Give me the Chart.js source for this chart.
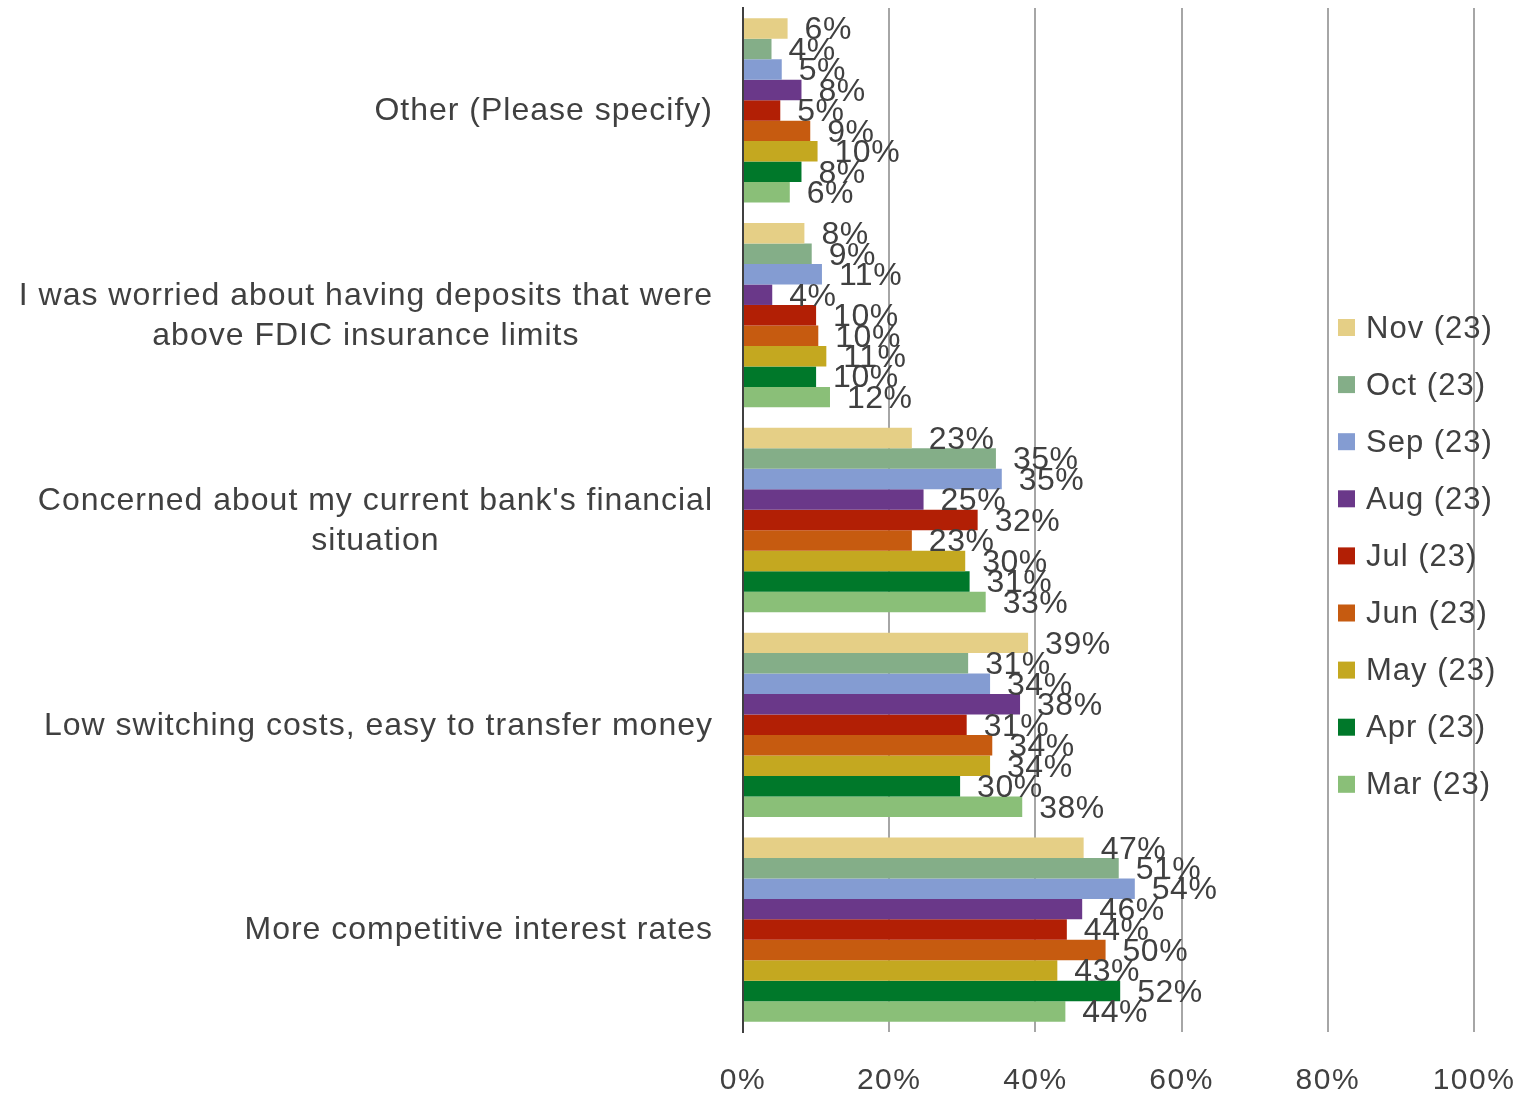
<!DOCTYPE html>
<html><head><meta charset="utf-8">
<script src="https://cdn.jsdelivr.net/npm/chart.js@4"></script>
<style>html,body{margin:0;padding:0;background:#fff}</style>
</head><body>
<canvas id="c" width="1524" height="1094"></canvas>
<script>
// ---- data ----
const categories = [
  ["Other (Please specify)"],
  ["I was worried about having deposits that were", "above FDIC insurance limits"],
  ["Concerned about my current bank's financial", "situation"],
  ["Low switching costs, easy to transfer money"],
  ["More competitive interest rates"]
];
const seriesNames = ["Nov (23)", "Oct (23)", "Sep (23)", "Aug (23)", "Jul (23)", "Jun (23)", "May (23)", "Apr (23)", "Mar (23)"];
const nov = [6.1, 8.4, 23.1, 39.0, 46.6];
const oct = [3.9, 9.4, 34.6, 30.8, 51.4];
const sep = [5.3, 10.8, 35.4, 33.8, 53.6];
const aug = [8.0, 4.0, 24.7, 37.9, 46.4];
const jul = [5.1, 10.0, 32.1, 30.6, 44.3];
const jun = [9.2, 10.3, 23.1, 34.1, 49.6];
const may = [10.2, 11.4, 30.4, 33.8, 43.0];
const apr = [8.0, 10.0, 31.0, 29.7, 51.6];
const mar = [6.4, 11.9, 33.2, 38.2, 44.1];
const xTicks = [0, 20, 40, 60, 80, 100];

// ---- styles ----
const colors = ["#E5CF86", "#84AE88", "#849CD2", "#6A3889", "#B21F05", "#C65B10", "#C4A820", "#00782A", "#8ABF78"];
const series = [nov, oct, sep, aug, jul, jun, may, apr, mar];
const FAM = '"Liberation Sans", Arial, sans-serif';
const TXT = '#404040';

const textPlugin = {
  id: 'textPlugin',
  beforeDraw(chart) {
    chart.ctx.letterSpacing = '1.5px';
  },
  afterDatasetsDraw(chart) {
    const ctx = chart.ctx;
    ctx.save();
    ctx.letterSpacing = '0.5px';
    ctx.font = '32px ' + FAM;
    ctx.fillStyle = TXT;
    ctx.textAlign = 'left';
    ctx.textBaseline = 'middle';
    chart.data.datasets.forEach((ds, di) => {
      const meta = chart.getDatasetMeta(di);
      meta.data.forEach((bar, i) => {
        ctx.fillText(Math.round(ds.data[i]) + '%', bar.x + 17, bar.y + 2);
      });
    });
    ctx.restore();
  },
  afterDraw(chart) {
    const ctx = chart.ctx;
    const ys = chart.scales.y;
    ctx.save();
    // category labels
    ctx.letterSpacing = '1px';
    ctx.font = '32px ' + FAM;
    ctx.fillStyle = TXT;
    ctx.textAlign = 'center';
    ctx.textBaseline = 'middle';
    const lh = 40;
    chart.data.labels.forEach((lines, i) => {
      const yc = ys.getPixelForTick(i) + 1;
      const w = Math.max(...lines.map(l => ctx.measureText(l).width));
      const cx = chart.chartArea.left - 30 - w / 2;
      const y0 = yc - (lines.length - 1) * lh / 2;
      lines.forEach((l, k) => ctx.fillText(l, cx, y0 + k * lh));
    });
    // legend
    ctx.font = '31px ' + FAM;
    ctx.textAlign = 'left';
    chart.data.datasets.forEach((ds, di) => {
      const y = 328 + di * 57.1;
      ctx.fillStyle = ds.backgroundColor;
      ctx.fillRect(1338, y - 9, 17, 17);
      ctx.fillStyle = TXT;
      ctx.fillText(ds.label, 1366, y + 1);
    });
    ctx.restore();
  }
};

new Chart(document.getElementById('c'), {
  type: 'bar',
  data: {
    labels: categories,
    datasets: seriesNames.map((n, i) => ({
      label: n,
      data: series[i],
      backgroundColor: colors[i],
      borderWidth: 0,
      categoryPercentage: 0.9,
      barPercentage: 1.0
    }))
  },
  options: {
    indexAxis: 'y',
    responsive: false,
    animation: false,
    devicePixelRatio: 1,
    layout: { padding: { top: 8, right: 50, left: 0, bottom: 0 } },
    plugins: { legend: { display: false }, tooltip: { enabled: false } },
    scales: {
      x: {
        min: 0, max: 100,
        afterBuildTicks: s => { s.ticks = xTicks.map(v => ({ value: v })); },
        ticks: { callback: v => v + '%', font: { size: 30, family: FAM, lineHeight: 3.13 }, color: TXT, padding: 2, maxRotation: 0 },
        grid: { color: c => (c.tick && c.tick.value === 0) ? 'rgba(0,0,0,0)' : '#a6a6a6', lineWidth: 2, drawTicks: false },
        border: { display: false },
        afterFit: s => { s.height = 62; }
      },
      y: {
        ticks: { display: false },
        grid: { display: false, drawTicks: false },
        border: { display: true, color: '#404040', width: 2 },
        afterFit: s => { s.width = 743; }
      }
    }
  },
  plugins: [textPlugin]
});
</script>
</body></html>
